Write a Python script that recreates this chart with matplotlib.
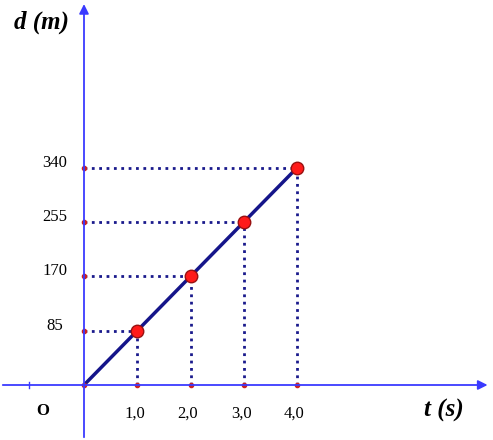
import matplotlib.pyplot as plt

# data
times = [1.0, 2.0, 3.0, 4.0]
distances = [85, 170, 255, 340]
x_labels = ['1,0', '2,0', '3,0', '4,0']
y_labels = ['85', '170', '255', '340']

fig = plt.figure(figsize=(4.93, 4.40), dpi=100)
ax = fig.add_axes([0, 0, 1, 1])
px_x = 53.25          # pixels per second
px_y = 54.3 / 85      # pixels per metre
ax.set_xlim(-84 / px_x, (493 - 84) / px_x)
ax.set_ylim(-55 / px_y, 385 / px_y)
ax.axis('off')

axis_col = '#3a3aff'
xl, xr = ax.get_xlim()
yb, yt = ax.get_ylim()
ax.annotate('', xy=(xr - 0.05, 0), xytext=(xl, 0),
            arrowprops=dict(arrowstyle='-|>', color=axis_col, lw=1.3, mutation_scale=14))
ax.annotate('', xy=(0, yt - 2), xytext=(0, yb),
            arrowprops=dict(arrowstyle='-|>', color=axis_col, lw=1.3, mutation_scale=14))
ax.plot([-1.03, -1.03], [-5, 5], color=axis_col, lw=1)

navy = '#1a1a8c'
for t, d in zip(times, distances):
    ax.plot([0, t], [d, d], ls=':', color=navy, lw=2)
    ax.plot([t, t], [0, d], ls=':', color=navy, lw=2)
    ax.plot(0, d, 'o', color='#cc2222', ms=3)
    ax.plot(t, 0, 'o', color='#cc2222', ms=3)

ax.plot([0] + times, [0] + distances, color='#15158a', lw=2.5)
ax.plot(times, distances, 'o', color='#ff1a1a', mec='#991111', ms=9)
ax.plot(0, 0, 'o', color='#cc2222', ms=3)

font = dict(family='Liberation Serif', fontsize=12)
for t, lab in zip(times, x_labels):
    ax.text(t - 0.05, -45, lab, ha='center', va='center', **font)
for d, lab in zip(distances, y_labels):
    ax.text(-0.55, d + 8, lab, ha='center', va='center', **font)
ax.text(-0.78, -40, 'O', ha='center', va='center', fontweight='bold', **font)
ax.text(-0.8, 567, 'd (m)', ha='center', va='center', fontsize=18,
        family='Liberation Serif', fontweight='bold', style='italic')
ax.text(6.75, -40, 't (s)', ha='center', va='center', fontsize=18,
        family='Liberation Serif', fontweight='bold', style='italic')

fig.savefig('out.png', dpi=100)
